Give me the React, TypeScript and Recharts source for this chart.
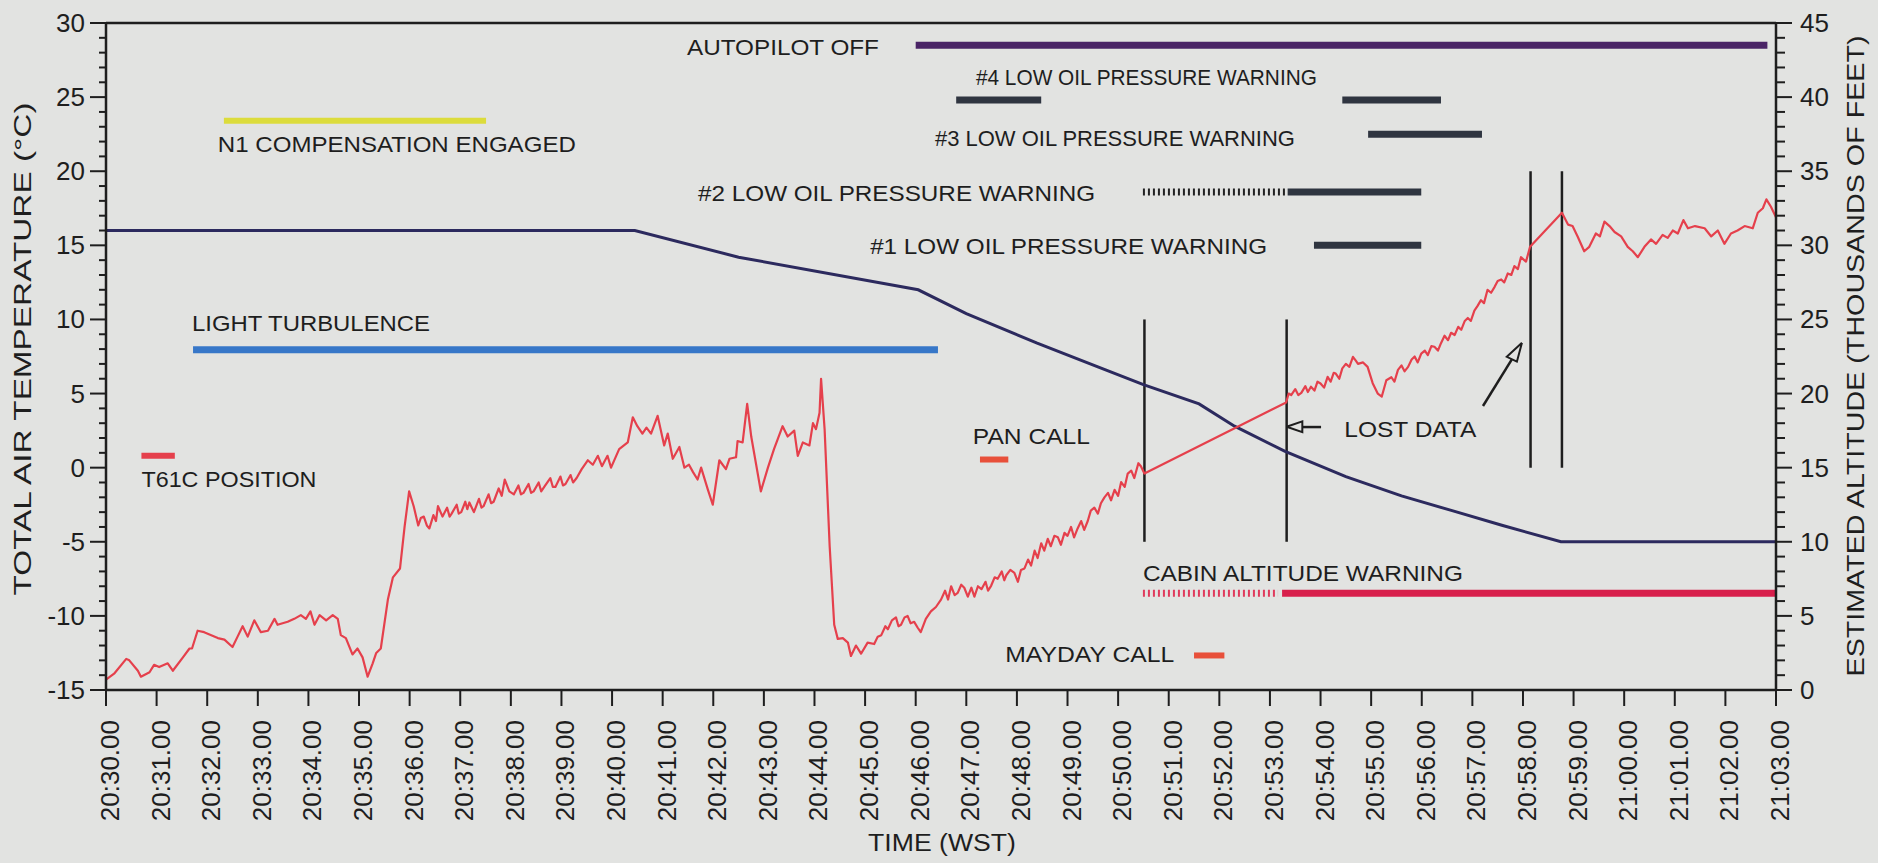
import React from 'react';
import { ComposedChart, Line, Scatter, XAxis, YAxis, ReferenceLine } from 'recharts';

// time axis: minutes after 20:30 WST
const timeLabels = [
  '20:30.00', '20:31.00', '20:32.00', '20:33.00', '20:34.00', '20:35.00',
  '20:36.00', '20:37.00', '20:38.00', '20:39.00', '20:40.00', '20:41.00',
  '20:42.00', '20:43.00', '20:44.00', '20:45.00', '20:46.00', '20:47.00',
  '20:48.00', '20:49.00', '20:50.00', '20:51.00', '20:52.00', '20:53.00',
  '20:54.00', '20:55.00', '20:56.00', '20:57.00', '20:58.00', '20:59.00',
  '21:00.00', '21:01.00', '21:02.00', '21:03.00',
];
const minuteTicks = timeLabels.map((_, i) => i);

const tempTicks = [
  -15, -14, -13, -12, -11, -10, -9, -8, -7, -6, -5, -4, -3, -2, -1, 0, 1, 2, 3, 4, 5,
  6, 7, 8, 9, 10, 11, 12, 13, 14, 15, 16, 17, 18, 19, 20, 21, 22, 23, 24, 25, 26, 27,
  28, 29, 30,
];
const altTicks = [
  0, 1, 2, 3, 4, 5, 6, 7, 8, 9, 10, 11, 12, 13, 14, 15, 16, 17, 18, 19, 20, 21, 22, 23,
  24, 25, 26, 27, 28, 29, 30, 31, 32, 33, 34, 35, 36, 37, 38, 39, 40, 41, 42, 43, 44, 45,
];

// total air temperature (deg C) - [minute, value]
const tatTrace = [
  [0, -14.3], [0.16, -13.9], [0.4, -12.9], [0.46, -13.0], [0.63, -13.7], [0.69, -14.1],
  [0.86, -13.8], [0.95, -13.3], [1.05, -13.45], [1.22, -13.2], [1.32, -13.7], [1.52, -12.8],
  [1.65, -12.2], [1.7, -12.2], [1.81, -11.0], [1.94, -11.1], [2.08, -11.3], [2.21, -11.5],
  [2.34, -11.6], [2.5, -12.1], [2.6, -11.4], [2.7, -10.7], [2.8, -11.4], [2.93, -10.3],
  [3.06, -11.1], [3.2, -11.0], [3.33, -10.2], [3.39, -10.6], [3.59, -10.4], [3.72, -10.2],
  [3.85, -9.95], [3.95, -10.2], [4.04, -9.7], [4.12, -10.6], [4.22, -9.95], [4.35, -10.3],
  [4.48, -9.95], [4.58, -10.2], [4.64, -11.3], [4.74, -11.5], [4.87, -12.6], [4.97, -12.2],
  [5.07, -12.8], [5.17, -14.1], [5.27, -13.2], [5.34, -12.5], [5.43, -12.2], [5.57, -8.9],
  [5.67, -7.4], [5.81, -6.8], [5.9, -4.0], [5.99, -1.6], [6.08, -2.6], [6.17, -3.9],
  [6.22, -3.4], [6.28, -3.3], [6.34, -3.9], [6.39, -4.1], [6.47, -3.2], [6.52, -3.6],
  [6.56, -2.6], [6.65, -3.3], [6.74, -2.7], [6.79, -3.3], [6.83, -3.1], [6.93, -2.5],
  [6.97, -3.1], [7.02, -3.0], [7.1, -2.3], [7.14, -2.8], [7.18, -2.35], [7.27, -3.0],
  [7.37, -2.1], [7.42, -2.7], [7.46, -2.6], [7.56, -1.8], [7.61, -2.4], [7.66, -2.3],
  [7.76, -1.4], [7.82, -1.9], [7.88, -0.8], [7.97, -1.6], [8.06, -1.8], [8.15, -1.2],
  [8.2, -1.8], [8.25, -1.7], [8.35, -1.1], [8.4, -1.7], [8.45, -1.6], [8.55, -1.0],
  [8.6, -1.6], [8.68, -1.2], [8.78, -0.7], [8.83, -1.3], [8.88, -1.3], [8.98, -0.6],
  [9.03, -1.2], [9.08, -1.1], [9.18, -0.5], [9.23, -1.0], [9.3, -0.7], [9.4, -0.1],
  [9.52, 0.5], [9.62, 0.2], [9.72, 0.8], [9.8, 0.1], [9.91, 0.8], [9.98, 0.0],
  [10.14, 1.25], [10.31, 1.7], [10.41, 3.4], [10.5, 2.8], [10.6, 2.3], [10.68, 2.7],
  [10.77, 2.3], [10.9, 3.5], [11.03, 1.5], [11.1, 2.3], [11.2, 0.6], [11.33, 1.4],
  [11.43, 0.0], [11.52, 0.2], [11.6, -0.3], [11.69, -0.8], [11.76, 0.0], [11.89, -1.45],
  [11.99, -2.5], [12.12, 0.5], [12.25, -0.1], [12.32, 0.6], [12.45, 0.7], [12.48, 1.8],
  [12.58, 1.7], [12.67, 4.3], [12.75, 2.1], [12.94, -1.6], [13.08, 0.0], [13.2, 1.25],
  [13.37, 2.8], [13.47, 2.1], [13.6, 2.5], [13.67, 0.8], [13.77, 1.7], [13.9, 1.5],
  [13.97, 3.0], [14.03, 2.6], [14.1, 3.7], [14.13, 6.0], [14.2, 2.6], [14.3, -5.3],
  [14.39, -10.6], [14.46, -11.55], [14.56, -11.5], [14.66, -11.8], [14.72, -12.7],
  [14.82, -12.0], [14.92, -12.55], [15.05, -11.8], [15.18, -11.9], [15.25, -11.4],
  [15.32, -11.3], [15.4, -10.7], [15.45, -10.9], [15.53, -10.3], [15.61, -10.1],
  [15.66, -10.7], [15.71, -10.6], [15.78, -10.1], [15.84, -10.0], [15.9, -10.5],
  [15.97, -10.4], [16.04, -10.8], [16.1, -11.1], [16.2, -10.2], [16.3, -9.7], [16.4, -9.4],
  [16.5, -8.9], [16.58, -8.3], [16.64, -8.9], [16.7, -8.0], [16.77, -8.6], [16.83, -8.45],
  [16.9, -7.9], [16.96, -8.1], [17.03, -8.7], [17.1, -8.1], [17.16, -8.7], [17.23, -8.0],
  [17.3, -8.2], [17.38, -7.7], [17.43, -8.3], [17.49, -7.97], [17.56, -7.4], [17.62, -7.5],
  [17.7, -7.0], [17.75, -7.6], [17.79, -7.26], [17.87, -6.9], [17.95, -7.1], [18.02, -7.7],
  [18.08, -6.9], [18.15, -6.8], [18.22, -6.2], [18.28, -6.6], [18.35, -5.6], [18.41, -6.1],
  [18.48, -5.1], [18.54, -5.6], [18.61, -4.8], [18.67, -5.3], [18.74, -4.6], [18.81, -4.7],
  [18.87, -5.2], [18.94, -4.4], [19.0, -4.6], [19.07, -4.0], [19.13, -4.7], [19.2, -4.1],
  [19.27, -3.6], [19.33, -4.2], [19.4, -3.6], [19.46, -2.9], [19.53, -2.7], [19.6, -3.1],
  [19.66, -2.4], [19.73, -2.0], [19.8, -1.7], [19.86, -2.2], [19.93, -1.5], [20.0, -1.9],
  [20.06, -0.97], [20.13, -1.3], [20.19, -0.4], [20.26, -0.2], [20.32, -0.7], [20.4, 0.3],
  [20.45, 0.1], [20.52, -0.4],
  [23.32, 4.4], [23.37, 5.0], [23.42, 4.9], [23.5, 5.3], [23.56, 4.9], [23.62, 5.05],
  [23.7, 5.5], [23.75, 5.1], [23.81, 5.46], [23.88, 5.2], [23.94, 5.8], [24.0, 5.68],
  [24.07, 5.4], [24.14, 6.13], [24.2, 5.8], [24.26, 6.4], [24.3, 6.35], [24.37, 6.0],
  [24.43, 6.7], [24.5, 7.0], [24.57, 6.8], [24.64, 7.48], [24.7, 7.2], [24.74, 7.0],
  [24.84, 7.1], [24.93, 6.8], [25.03, 5.7], [25.13, 5.0], [25.21, 4.8], [25.3, 5.9],
  [25.4, 6.1], [25.46, 5.8], [25.53, 6.6], [25.6, 6.9], [25.66, 6.5], [25.73, 6.8],
  [25.8, 7.3], [25.86, 7.5], [25.92, 7.1], [25.99, 7.7], [26.06, 7.9], [26.12, 7.6],
  [26.19, 8.2], [26.25, 8.16], [26.32, 7.9], [26.38, 8.4], [26.45, 8.9], [26.52, 8.6],
  [26.58, 9.1], [26.65, 8.95], [26.72, 9.5], [26.78, 9.3], [26.85, 9.9], [26.91, 10.1],
  [26.97, 9.9], [27.04, 10.6], [27.1, 10.9], [27.17, 11.3], [27.23, 11.1], [27.3, 12.0],
  [27.37, 11.8], [27.44, 12.2], [27.5, 12.6], [27.57, 12.7], [27.63, 12.5], [27.7, 13.1],
  [27.77, 13.0], [27.83, 13.6], [27.9, 13.4], [27.96, 14.2], [28.06, 13.9], [28.14, 14.9],
  [28.77, 17.2], [28.89, 16.4], [28.98, 16.3], [29.08, 15.6], [29.21, 14.6], [29.31, 14.9],
  [29.44, 15.8], [29.52, 15.6], [29.61, 16.6], [29.71, 16.3], [29.81, 15.9], [29.94, 15.6],
  [30.07, 14.9], [30.17, 14.6], [30.27, 14.2], [30.4, 14.9], [30.53, 15.4], [30.63, 15.1],
  [30.76, 15.7], [30.86, 15.5], [30.96, 16.0], [31.06, 15.8], [31.17, 16.7], [31.26, 16.15],
  [31.4, 16.3], [31.59, 16.15], [31.72, 15.6], [31.85, 16.0], [31.98, 15.1], [32.11, 15.8],
  [32.24, 16.0], [32.38, 16.3], [32.54, 16.15], [32.64, 17.2], [32.74, 17.5], [32.81, 18.1],
  [32.9, 17.6], [33.0, 16.9],
];

// estimated altitude (thousands of feet) - [minute, value]
const altTrace = [
  [0, 31.0], [10.45, 31.0], [12.5, 29.2], [16.05, 27.0], [17.0, 25.4], [18.4, 23.4],
  [19.6, 21.8], [20.5, 20.6], [21.6, 19.3], [22.3, 17.8], [23.3, 16.1], [24.5, 14.4],
  [25.6, 13.1], [26.6, 12.1], [27.6, 11.1], [28.75, 10.0], [33.0, 10.0],
];

// event bars: [start minute, end minute, level on temperature scale]
const autopilotOff = [16.0, 32.83, 28.5];
const oil4Warn = [[16.8, 18.48, 24.8], [24.43, 26.38, 24.8]];
const oil3Warn = [24.94, 27.19, 22.5];
const oil2Intermittent = [20.49, 23.35, 18.6];
const oil2Warn = [23.35, 25.99, 18.6];
const oil1Warn = [23.87, 25.99, 15.0];
const n1Compensation = [2.33, 7.51, 23.4];
const lightTurbulence = [1.72, 16.44, 7.95];
const t61cPosition = [0.7, 1.36, 0.8];
const panCall = [17.27, 17.83, 0.55];
const maydayCall = [21.5, 22.1, -12.67];
const cabinIntermittent = [20.49, 23.16, -8.48];
const cabinWarn = [23.24, 33.0, -8.48];

// data-loss marker lines: [minute, from, to]
const gapMarkers = [[20.52, -5, 10], [23.33, -5, 10], [28.15, 0, 20], [28.77, 0, 20]];

// annotation texts anchored at [minute, level]
const notes = [
  { text: 'AUTOPILOT OFF', t: 11.48, v: 28.38 },
  { text: '#4 LOW OIL PRESSURE WARNING', t: 17.19, v: 26.35 },
  { text: '#3 LOW OIL PRESSURE WARNING', t: 16.38, v: 22.24 },
  { text: '#2 LOW OIL PRESSURE WARNING', t: 11.7, v: 18.53 },
  { text: '#1 LOW OIL PRESSURE WARNING', t: 15.1, v: 14.89 },
  { text: 'N1 COMPENSATION ENGAGED', t: 2.21, v: 21.77 },
  { text: 'LIGHT TURBULENCE', t: 1.7, v: 9.76 },
  { text: 'T61C POSITION', t: 0.7, v: -0.77 },
  { text: 'PAN CALL', t: 17.13, v: 2.09 },
  { text: 'MAYDAY CALL', t: 17.77, v: -12.6 },
  { text: 'CABIN ALTITUDE WARNING', t: 20.49, v: -7.13 },
  { text: 'LOST DATA', t: 24.47, v: 2.58 },
];

// arrows (shaft + open head) in [minute, level]
const arrowShafts = [
  [[24.01, 2.74], [23.64, 2.74]],
  [[27.21, 4.16], [27.78, 7.31]],
];
const arrowHeads = [
  [[23.33, 2.76], [23.64, 3.12], [23.64, 2.4], [23.33, 2.76]],
  [[27.98, 8.43], [27.68, 7.48], [27.88, 7.15], [27.98, 8.43]],
];

const FONT = '"Liberation Sans", Arial, Helvetica, sans-serif';
const INK = '#1e1e1e';
const PAPER = '#e2e3e1';

const noteWidth: Record<string, number> = {
  'AUTOPILOT OFF': 192,
  '#4 LOW OIL PRESSURE WARNING': 341,
  '#3 LOW OIL PRESSURE WARNING': 360,
  '#2 LOW OIL PRESSURE WARNING': 397,
  '#1 LOW OIL PRESSURE WARNING': 397,
  'N1 COMPENSATION ENGAGED': 358,
  'LIGHT TURBULENCE': 238,
  'T61C POSITION': 175,
  'PAN CALL': 117,
  'MAYDAY CALL': 169,
  'CABIN ALTITUDE WARNING': 320,
  'LOST DATA': 132,
};

const toPts = (pairs: number[][]) => pairs.map(([t, v]) => ({ t, v }));
const barPts = ([a, b, lvl]: number[]) => [{ t: a, v: lvl }, { t: b, v: lvl }];

const NoteText = (props: any) => {
  const { cx, cy, payload } = props;
  return (
    <text
      x={cx}
      y={cy}
      dominantBaseline="central"
      fontFamily={FONT}
      fontSize={22}
      fill={INK}
      textLength={noteWidth[payload.text]}
      lengthAdjust="spacingAndGlyphs"
    >
      {payload.text}
    </text>
  );
};

const LeftTick = ({ x, y, payload }: any) => {
  const major = payload.value % 5 === 0;
  return (
    <g>
      <line x1={x - (major ? 16 : 7)} x2={x} y1={y} y2={y} stroke={INK} strokeWidth={2} />
      {major && (
        <text x={x - 21} y={y} textAnchor="end" dominantBaseline="central" fontFamily={FONT} fontSize={26} fill={INK}>
          {payload.value}
        </text>
      )}
    </g>
  );
};

const RightTick = ({ x, y, payload }: any) => {
  const major = payload.value % 5 === 0;
  return (
    <g>
      <line x1={x} x2={x + (major ? 16 : 9)} y1={y} y2={y} stroke={INK} strokeWidth={2} />
      {major && (
        <text x={x + 24} y={y} textAnchor="start" dominantBaseline="central" fontFamily={FONT} fontSize={26} fill={INK}>
          {payload.value}
        </text>
      )}
    </g>
  );
};

const TimeTick = ({ x, y, payload }: any) => (
  <g>
    <line x1={x} x2={x} y1={y} y2={y + 16} stroke={INK} strokeWidth={2} />
    <text
      transform={`translate(${x + 4},${y + 30}) rotate(-90)`}
      textAnchor="end"
      dominantBaseline="central"
      fontFamily={FONT}
      fontSize={26}
      fill={INK}
    >
      {timeLabels[payload.value]}
    </text>
  </g>
);

const bar = (key: string, seg: number[], color: string, width: number, dash?: string) => (
  <Line
    key={key}
    yAxisId="temp"
    data={barPts(seg)}
    dataKey="v"
    stroke={color}
    strokeWidth={width}
    strokeDasharray={dash}
    strokeLinecap="butt"
    dot={false}
    activeDot={false}
    isAnimationActive={false}
  />
);

export default function App() {
  return (
    <div style={{ position: 'absolute', left: 0, top: 0, width: 1878, height: 863, background: PAPER }}>
      <ComposedChart width={1878} height={863} margin={{ top: 23, right: 0, bottom: 0, left: 0 }}>
        <XAxis
          dataKey="t"
          type="number"
          domain={[0, 33]}
          ticks={minuteTicks}
          interval={0}
          allowDataOverflow
          height={173}
          tickSize={0}
          tickMargin={0}
          tickLine={false}
          tick={<TimeTick />}
          axisLine={{ stroke: INK, strokeWidth: 2.5 }}
          label={{
            content: () => (
              <text x={942} y={843} textAnchor="middle" dominantBaseline="central" fontFamily={FONT} fontSize={23} fill={INK} textLength={148} lengthAdjust="spacingAndGlyphs">
                TIME (WST)
              </text>
            ),
          }}
        />
        <YAxis
          yAxisId="temp"
          orientation="left"
          type="number"
          domain={[-15, 30]}
          ticks={tempTicks}
          interval={0}
          allowDataOverflow
          width={106}
          tickSize={0}
          tickMargin={0}
          tickLine={false}
          tick={<LeftTick />}
          axisLine={{ stroke: INK, strokeWidth: 2.5 }}
          label={{
            content: () => (
              <text transform="translate(22,349) rotate(-90)" textAnchor="middle" dominantBaseline="central" fontFamily={FONT} fontSize={24} fill={INK} textLength={493} lengthAdjust="spacingAndGlyphs">
                TOTAL AIR TEMPERATURE (°C)
              </text>
            ),
          }}
        />
        <YAxis
          yAxisId="alt"
          orientation="right"
          type="number"
          domain={[0, 45]}
          ticks={altTicks}
          interval={0}
          allowDataOverflow
          width={102}
          tickSize={0}
          tickMargin={0}
          tickLine={false}
          tick={<RightTick />}
          axisLine={{ stroke: INK, strokeWidth: 2.5 }}
          label={{
            content: () => (
              <text transform="translate(1855,356) rotate(-90)" textAnchor="middle" dominantBaseline="central" fontFamily={FONT} fontSize={24} fill={INK} textLength={641} lengthAdjust="spacingAndGlyphs">
                ESTIMATED ALTITUDE (THOUSANDS OF FEET)
              </text>
            ),
          }}
        />
        <ReferenceLine yAxisId="temp" y={30} stroke={INK} strokeWidth={2.5} />

        {bar('autopilot', autopilotOff, '#4a2466', 7)}
        {oil4Warn.map((s, i) => bar(`oil4-${i}`, s, '#2f3540', 7))}
        {bar('oil3', oil3Warn, '#2f3540', 7)}
        {bar('oil2i', oil2Intermittent, '#222', 7, '2 3')}
        {bar('oil2', oil2Warn, '#2f3540', 7)}
        {bar('oil1', oil1Warn, '#2f3540', 7)}
        {bar('n1', n1Compensation, '#dcdc3c', 6)}
        {bar('turb', lightTurbulence, '#3777c8', 7)}
        {bar('t61c', t61cPosition, '#e5404c', 6)}
        {bar('pan', panCall, '#e8503a', 6)}
        {bar('mayday', maydayCall, '#e8503a', 6)}
        {bar('cabini', cabinIntermittent, '#e03a5c', 7, '2 3')}
        {bar('cabin', cabinWarn, '#d8204c', 7)}

        {gapMarkers.map(([t, lo, hi], i) => (
          <Line
            key={`gap-${i}`}
            yAxisId="temp"
            data={[{ t, v: lo }, { t, v: hi }]}
            dataKey="v"
            stroke={INK}
            strokeWidth={2.5}
            dot={false}
            activeDot={false}
            isAnimationActive={false}
          />
        ))}
        {arrowShafts.map((s, i) => (
          <Line key={`shaft-${i}`} yAxisId="temp" data={toPts(s)} dataKey="v" stroke={INK} strokeWidth={2.5} dot={false} activeDot={false} isAnimationActive={false} />
        ))}
        {arrowHeads.map((s, i) => (
          <Line key={`head-${i}`} yAxisId="temp" data={toPts(s)} dataKey="v" stroke={INK} strokeWidth={2} strokeLinejoin="miter" dot={false} activeDot={false} isAnimationActive={false} />
        ))}

        <Line
          yAxisId="alt"
          data={toPts(altTrace)}
          dataKey="v"
          stroke="#2c2a5e"
          strokeWidth={3}
          dot={false}
          activeDot={false}
          isAnimationActive={false}
        />
        <Line
          yAxisId="temp"
          data={toPts(tatTrace)}
          dataKey="v"
          stroke="#e5404c"
          strokeWidth={2.2}
          strokeLinejoin="round"
          dot={false}
          activeDot={false}
          isAnimationActive={false}
        />
        <Scatter yAxisId="temp" data={notes} dataKey="v" shape={<NoteText />} isAnimationActive={false} />
      </ComposedChart>
    </div>
  );
}
